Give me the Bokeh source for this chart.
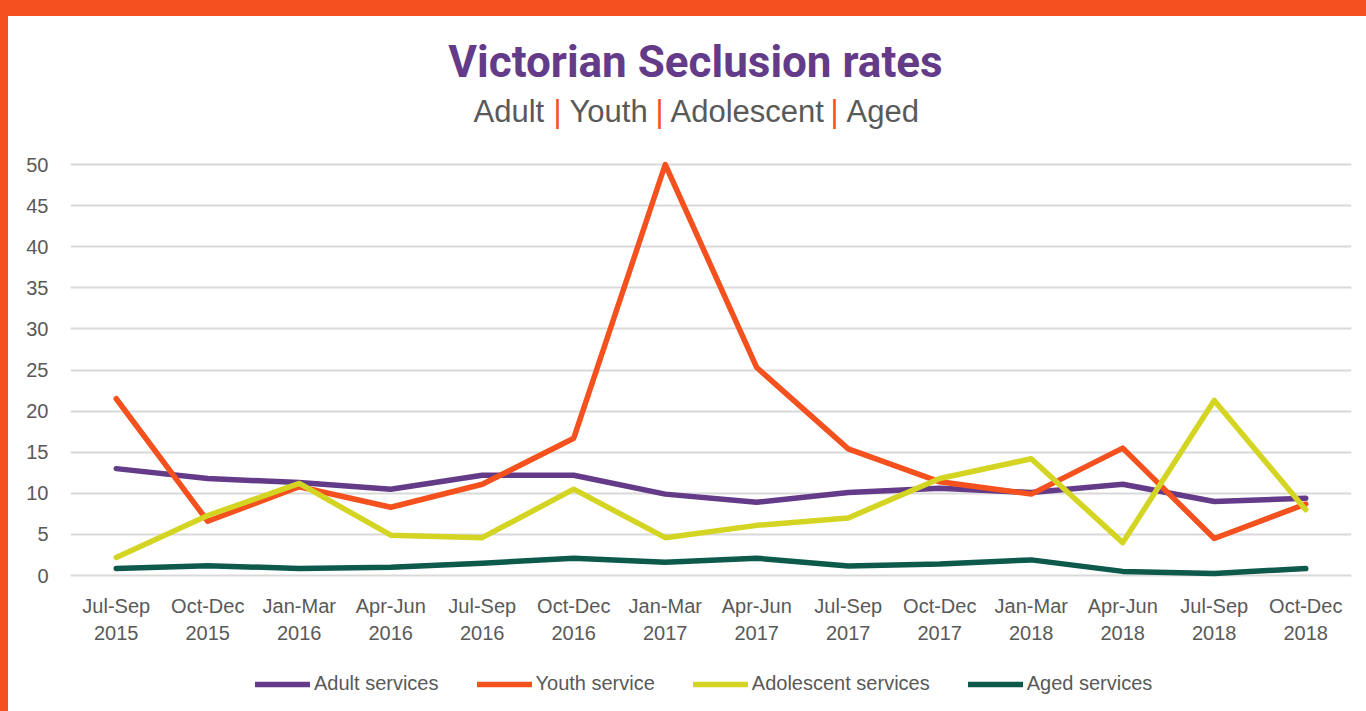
from bokeh.plotting import figure
from bokeh.models import Range1d, FixedTicker, Label, Legend, LegendItem, Div
from bokeh.layouts import column, row
from bokeh.embed import file_html
from bokeh.resources import INLINE

# ---------------- data ----------------
quarters = ["Jul-Sep\n2015", "Oct-Dec\n2015", "Jan-Mar\n2016", "Apr-Jun\n2016",
            "Jul-Sep\n2016", "Oct-Dec\n2016", "Jan-Mar\n2017", "Apr-Jun\n2017",
            "Jul-Sep\n2017", "Oct-Dec\n2017", "Jan-Mar\n2018", "Apr-Jun\n2018",
            "Jul-Sep\n2018", "Oct-Dec\n2018"]
adult = [13.0, 11.8, 11.3, 10.5, 12.2, 12.2, 9.9, 8.9, 10.1, 10.6, 10.1, 11.1, 9.0, 9.4]
youth = [21.5, 6.6, 10.8, 8.3, 11.1, 16.7, 50.0, 25.3, 15.4, 11.4, 9.9, 15.5, 4.5, 8.7]
adolescent = [2.2, 7.3, 11.2, 4.9, 4.6, 10.5, 4.6, 6.1, 7.0, 11.8, 14.2, 4.0, 21.3, 8.0]
aged = [0.85, 1.2, 0.85, 1.0, 1.5, 2.1, 1.6, 2.1, 1.15, 1.4, 1.9, 0.5, 0.25, 0.85]
series_names = ["Adult services", "Youth service", "Adolescent services", "Aged services"]
y_ticks = [0, 5, 10, 15, 20, 25, 30, 35, 40, 45, 50]
title_text = "Victorian Seclusion rates"
subtitle_words = ["Adult", "Youth", "Adolescent", "Aged"]

# ---------------- style ----------------
PURPLE = "#643B88"
ORANGE = "#F4511E"
LIME = "#D4D523"
GREEN = "#0D5A4C"
GREY = "#595959"
GRID = "#D9D9D9"
SANS = "Liberation Sans"
TITLE_FONT = "Roboto"
colors = [PURPLE, ORANGE, LIME, GREEN]
all_series = [adult, youth, adolescent, aged]

# page is 1366 x 711; top orange band 16px, left orange band 8px
W = 1358
CHART_H = 639      # page y 16..655
LEG_H = 56         # page y 655..711
x_idx = list(range(len(quarters)))

# frame spans page y 16..580; value 0 sits at page y 575, 8.22 px per unit
Y0, Y1 = -5 / 8.22, (575 - 16) / 8.22

p = figure(width=W, height=CHART_H, output_backend="svg", toolbar_location=None,
           x_range=Range1d(-0.5, 13.5), y_range=Range1d(Y0, Y1),
           min_border_left=62, min_border_right=15, min_border_top=0,
           min_border_bottom=CHART_H - 564)
p.background_fill_color = "white"
p.border_fill_color = "white"
p.outline_line_color = None

p.xgrid.visible = False
p.ygrid.grid_line_color = GRID
p.ygrid.grid_line_width = 2
p.ygrid.ticker = FixedTicker(ticks=y_ticks)

p.yaxis.ticker = FixedTicker(ticks=y_ticks)
p.yaxis.axis_line_color = None
p.yaxis.major_tick_line_color = None
p.yaxis.minor_tick_line_color = None
p.yaxis.major_tick_out = 0
p.yaxis.major_tick_in = 0
p.yaxis.major_label_standoff = 22
p.yaxis.major_label_text_font = SANS
p.yaxis.major_label_text_font_size = "20px"
p.yaxis.major_label_text_color = GREY

p.xaxis.ticker = FixedTicker(ticks=x_idx)
p.xaxis.major_label_overrides = {i: q for i, q in enumerate(quarters)}
p.xaxis.axis_line_color = None
p.xaxis.major_tick_line_color = None
p.xaxis.minor_tick_line_color = None
p.xaxis.major_tick_out = 0
p.xaxis.major_tick_in = 0
p.xaxis.major_label_standoff = 14
p.xaxis.major_label_text_font = SANS
p.xaxis.major_label_text_font_size = "20px"
p.xaxis.major_label_text_color = GREY
p.xaxis.major_label_text_line_height = 1.25

for vals, col in zip(all_series, colors):
    p.line(x_idx, vals, line_color=col, line_width=5.5,
           line_cap="round", line_join="round")

# text positions: reference page pixels -> data coords
def dx(px):
    return (px - 115.75) / 91.5

def dy(py):
    return (575.0 - py) / 8.22

p.add_layout(Label(x=dx(695), y=dy(61), text=title_text, text_align="center",
                   text_baseline="alphabetic", text_font=TITLE_FONT,
                   text_font_style="bold", text_font_size="44px",
                   text_color=PURPLE))
word_left = [473, 569, 670, 846]
pipe_x = [557, 659, 834]
for i, w in enumerate(subtitle_words):
    p.add_layout(Label(x=dx(word_left[i]), y=dy(110.5), text=w, text_align="left",
                       text_baseline="alphabetic", text_font=SANS,
                       text_font_size="31px", text_color=GREY))
for px in pipe_x:
    p.add_layout(Label(x=dx(px), y=dy(110.5), text="|", text_align="center",
                       text_baseline="alphabetic", text_font=SANS,
                       text_font_size="31px", text_color=ORANGE))

# ---------------- legend strip ----------------
# the same series are drawn here but kept out of this strip's visible range,
# so only their legend swatches show
leg = figure(width=W, height=LEG_H, output_backend="svg", toolbar_location=None,
             x_range=Range1d(0, 1), y_range=Range1d(1000, 1001), min_border=0)
leg.axis.visible = False
leg.grid.visible = False
leg.outline_line_color = None
leg.background_fill_color = "white"
leg.border_fill_color = "white"
leg_renderers = [leg.line(x_idx, vals, line_color=c, line_width=5.5, line_cap="round")
                 for vals, c in zip(all_series, colors)]
legend = Legend(items=[LegendItem(label=n, renderers=[r])
                       for n, r in zip(series_names, leg_renderers)],
                orientation="horizontal", location=(247, 16),
                glyph_width=55, glyph_height=20, label_standoff=4, spacing=38,
                padding=0, margin=0, border_line_color=None,
                background_fill_alpha=0,
                label_text_font=SANS, label_text_font_size="20px",
                label_text_color=GREY)
leg.add_layout(legend, "center")

top_bar = Div(text="", width=W + 8, height=16, margin=0,
              styles={"background-color": ORANGE})
left_bar1 = Div(text="", width=8, height=CHART_H, margin=0,
                styles={"background-color": ORANGE})
left_bar2 = Div(text="", width=8, height=LEG_H, margin=0,
                styles={"background-color": ORANGE})
layout = column(top_bar, row(left_bar1, p, spacing=0),
                row(left_bar2, leg, spacing=0), spacing=0)

open("out.html", "w").write(file_html(layout, INLINE))
